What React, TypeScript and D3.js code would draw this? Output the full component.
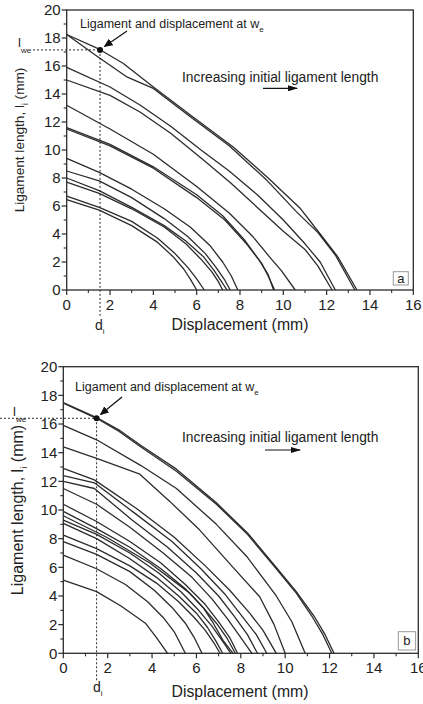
import React from 'react';
import * as d3 from 'd3';

type Pt = [number, number];

// panel a: ligament length vs displacement, one list per specimen
const curvesA: Pt[][] = [
  [[0, 18.25], [1.5, 17.2], [2.6, 16.2], [4, 14.5], [5.8, 12.4], [7.7, 10.2], [9.3, 8.0], [10.8, 5.8], [11.7, 4.0], [12.5, 2.4], [13.4, 0]],
  [[0, 18.25], [1.4, 16.7], [2.8, 15.2], [4, 14.4], [5.6, 12.5], [7.5, 10.3], [9.2, 7.9], [10.6, 5.6], [11.6, 4.1], [12.4, 2.5], [13.3, 0]],
  [[0, 15.9], [2, 14.5], [3.4, 13.2], [4.8, 11.7], [6.2, 10.0], [7.5, 8.5], [8.8, 6.8], [10, 5.0], [11, 3.3], [11.7, 2.0], [12.4, 0]],
  [[0, 15.0], [2, 13.9], [3.4, 12.7], [4.8, 11.2], [6.3, 9.3], [7.6, 7.6], [8.8, 5.9], [10, 4.2], [11, 2.9], [11.6, 1.7], [12.25, 0]],
  [[0, 13.2], [2, 11.5], [4, 9.7], [6, 7.4], [7.5, 5.5], [8.6, 3.8], [9.4, 2.3], [9.9, 1.4], [10.55, 0]],
  [[0, 11.6], [2, 10.4], [4, 8.8], [6, 6.8], [7.2, 5.3], [8.2, 3.6], [8.9, 2.1], [9.3, 1.1], [9.55, 0]],
  [[0, 11.5], [2, 10.3], [4, 8.7], [6, 6.6], [7.3, 5.0], [8.3, 3.3], [9.0, 1.9], [9.3, 1.0], [9.6, 0]],
  [[0, 9.4], [1.5, 8.4], [3, 7.2], [4.5, 5.8], [5.7, 4.5], [6.6, 3.2], [7.2, 2.0], [7.6, 1.0], [7.9, 0]],
  [[0, 8.5], [1.5, 7.8], [3, 6.6], [4.5, 5.1], [5.6, 3.8], [6.4, 2.6], [6.9, 1.6], [7.3, 0.7], [7.55, 0]],
  [[0, 8.0], [1.5, 7.1], [3, 5.9], [4.5, 4.6], [5.5, 3.5], [6.3, 2.4], [6.8, 1.4], [7.1, 0.7], [7.4, 0]],
  [[0, 7.7], [1.5, 6.9], [3, 5.8], [4.5, 4.5], [5.5, 3.3], [6.2, 2.2], [6.7, 1.3], [7.0, 0.6], [7.2, 0]],
  [[0, 6.7], [1.5, 5.9], [3, 4.9], [4.2, 3.7], [5.0, 2.6], [5.6, 1.6], [6.0, 0.8], [6.35, 0]],
  [[0, 6.45], [1.5, 5.7], [3, 4.6], [4.2, 3.4], [4.9, 2.4], [5.4, 1.5], [5.7, 0.8], [6.0, 0]],
];

// panel b
const curvesB: Pt[][] = [
  [[0, 17.5], [1.5, 16.45], [2.5, 15.6], [3.5, 14.5], [5.1, 12.85], [6.9, 10.5], [8.3, 8.4], [9.6, 6.0], [10.5, 4.3], [11.3, 2.6], [11.8, 1.3], [12.2, 0]],
  [[0, 17.45], [1.5, 16.4], [2.5, 15.5], [3.5, 14.4], [5.1, 12.7], [6.9, 10.4], [8.3, 8.3], [9.6, 5.9], [10.5, 4.2], [11.2, 2.6], [11.7, 1.3], [12.1, 0]],
  [[0, 15.9], [1.5, 14.9], [3.5, 13.1], [5.1, 11.5], [6.9, 9.0], [8.3, 6.7], [9.6, 4.0], [10.3, 2.2], [10.9, 0]],
  [[0, 14.4], [1.5, 13.6], [3.45, 12.5], [4.8, 10.6], [6.15, 8.6], [7.65, 6.0], [8.85, 3.95], [9.5, 2.0], [10.0, 0]],
  [[0, 12.9], [1.4, 12.1], [3.3, 10.1], [5, 8.1], [6.4, 6.1], [7.5, 4.4], [8.4, 2.8], [9.0, 1.6], [9.6, 0]],
  [[0, 12.4], [1.4, 11.9], [3.2, 9.8], [4.9, 7.8], [6.2, 5.9], [7.3, 4.1], [8.0, 2.7], [8.7, 1.3], [9.17, 0]],
  [[0, 12.0], [1.4, 11.5], [3.1, 9.3], [4.7, 7.4], [6, 5.6], [7, 4.0], [7.7, 2.6], [8.3, 1.3], [8.75, 0]],
  [[0, 11.5], [1.5, 10.4], [3, 8.8], [4.5, 7.0], [5.8, 5.3], [6.7, 3.8], [7.4, 2.4], [8.0, 1.1], [8.5, 0]],
  [[0, 10.4], [1.5, 9.2], [3, 7.8], [4.4, 6.3], [5.5, 4.8], [6.4, 3.4], [7.0, 2.2], [7.5, 1.1], [7.85, 0]],
  [[0, 9.9], [1.5, 8.7], [3, 7.4], [4.4, 5.9], [5.5, 4.5], [6.3, 3.2], [6.9, 2.1], [7.4, 1.0], [7.75, 0]],
  [[0, 9.6], [1.95, 8.1], [3.9, 6.3], [5.7, 4.2], [6.3, 3.2], [6.76, 2.1], [7.2, 0.9], [7.65, 0]],
  [[0, 9.3], [1.5, 8.3], [3, 7.0], [4.3, 5.6], [5.3, 4.3], [6.1, 3.0], [6.7, 1.9], [7.2, 0.8], [7.55, 0]],
  [[0, 9.07], [1.5, 8.0], [3, 6.6], [4.2, 5.3], [5.2, 4.0], [6, 2.8], [6.5, 1.8], [6.9, 0.8], [7.18, 0]],
  [[0, 8.25], [1.5, 7.3], [3, 6.1], [4.2, 4.9], [5.2, 3.6], [5.9, 2.5], [6.4, 1.6], [6.8, 0.7], [7.06, 0]],
  [[0, 7.8], [1.5, 6.9], [3, 5.7], [4.1, 4.4], [4.9, 3.2], [5.5, 2.1], [5.9, 1.1], [6.25, 0]],
  [[0, 6.85], [1.5, 5.9], [2.8, 4.8], [3.8, 3.6], [4.5, 2.5], [5.0, 1.5], [5.5, 0]],
  [[0, 5.1], [1.5, 4.3], [2.6, 3.3], [3.7, 2.1], [4.2, 1.1], [4.7, 0]],
];

// point at w_e (displacement d_i, ligament l_we)
const weA: Pt = [1.54, 17.15];
const weB: Pt = [1.5, 16.4];

const xTicks = [0, 2, 4, 6, 8, 10, 12, 14, 16];
const yTicks = [0, 2, 4, 6, 8, 10, 12, 14, 16, 18, 20];
const xMinor = [1, 3, 5, 7, 9, 11, 13, 15];
const yMinor = [1, 3, 5, 7, 9, 11, 13, 15, 17, 19];

const ink = '#2b2b2b';

function Panel(props: any) {
  const { curves, we, lay, tag } = props;
  const x = d3.scaleLinear().domain([0, 16]).range([lay.l, lay.r]);
  const y = d3.scaleLinear().domain([0, 20]).range([lay.b, lay.t]);
  const line = d3.line<Pt>().x(d => x(d[0])).y(d => y(d[1]));
  const px = x(we[0]), py = y(we[1]);

  return (
    <g>
      {/* frame */}
      <rect x={lay.l} y={lay.t} width={lay.r - lay.l} height={lay.b - lay.t} fill="none" stroke={ink} strokeWidth={1.3} />

      {/* ticks */}
      {xTicks.map(t => (
        <g key={'x' + t}>
          <line x1={x(t)} x2={x(t)} y1={lay.b} y2={lay.b + 5} stroke={ink} strokeWidth={1.2} />
          <text x={x(t)} y={lay.b + 20} textAnchor="middle" fontSize={15} fill="#222">{t}</text>
        </g>
      ))}
      {xMinor.map(t => (
        <line key={'xm' + t} x1={x(t)} x2={x(t)} y1={lay.b} y2={lay.b + 3} stroke={ink} strokeWidth={1.1} />
      ))}
      {yTicks.map(t => (
        <g key={'y' + t}>
          <line x1={lay.l - 5} x2={lay.l} y1={y(t)} y2={y(t)} stroke={ink} strokeWidth={1.2} />
          <text x={lay.l - 6} y={y(t)} dy="0.36em" textAnchor="end" fontSize={15} fill="#222">{t}</text>
        </g>
      ))}
      {yMinor.map(t => (
        <line key={'ym' + t} x1={lay.l - 3} x2={lay.l} y1={y(t)} y2={y(t)} stroke={ink} strokeWidth={1.1} />
      ))}

      {/* curves */}
      {curves.map((c: Pt[], i: number) => (
        <path key={i} d={line(c) || ''} fill="none" stroke={ink} strokeWidth={1.3} strokeLinejoin="round" />
      ))}

      {/* dotted guides */}
      <line x1={lay.lweLine} x2={px} y1={py} y2={py} stroke={ink} strokeWidth={1} strokeDasharray="2,2" />
      <line x1={px} x2={px} y1={py} y2={lay.diLine} stroke={ink} strokeWidth={1} strokeDasharray="2,2" />
      <circle cx={px} cy={py} r={3} fill="#111" />

      {/* labels */}
      <text x={lay.lweX} y={lay.lweY} fontSize={13} fill="#222">l<tspan dy={6} fontSize={8}>we</tspan></text>
      <text x={lay.diX} y={lay.diY} fontSize={14} fill="#222">d<tspan dy={4} fontSize={8}>i</tspan></text>

      <text x={lay.noteX} y={lay.noteY} fontSize={12.5} fill="#222">Ligament and displacement at w<tspan dy={4} fontSize={8}>e</tspan></text>
      <line x1={lay.arr[0]} y1={lay.arr[1]} x2={lay.arr[2]} y2={lay.arr[3]} stroke="#111" strokeWidth={1.2} markerEnd="url(#ah)" />

      <text x={lay.incX} y={lay.incY} fontSize={13.8} fill="#222">Increasing initial ligament length</text>
      <line x1={lay.incA[0]} y1={lay.incA[2]} x2={lay.incA[1]} y2={lay.incA[2]} stroke="#111" strokeWidth={1.2} markerEnd="url(#ah2)" />

      {/* axis titles */}
      <text x={lay.xtX} y={lay.xtY} textAnchor="middle" fontSize={15.8} fill="#222">Displacement (mm)</text>
      <text transform={`translate(${lay.ytX},${lay.ytY}) rotate(-90)`} textAnchor="middle" fontSize={lay.ytF} fill="#222">
        Ligament length, l<tspan dy={4} fontSize={lay.ytF * 0.62}>i</tspan><tspan dy={-4}> (mm)</tspan>
      </text>

      {/* panel tag */}
      <rect x={lay.tag[0]} y={lay.tag[1]} width={lay.tag[2]} height={lay.tag[3]} fill="#fff" stroke="#999" strokeWidth={1} />
      <text x={lay.tag[0] + lay.tag[2] / 2} y={lay.tag[1] + lay.tag[3] / 2} dy="0.35em" textAnchor="middle" fontSize={13} fill="#222">{tag}</text>
    </g>
  );
}

const layA = {
  l: 66.7, r: 413.3, t: 10, b: 290,
  lweX: 18, lweY: 47, lweLine: 33, diX: 95, diY: 330, diLine: 318,
  noteX: 80, noteY: 27.5, arr: [127, 31, 104.5, 46.5],
  incX: 182, incY: 81.5, incA: [263, 297, 88.3],
  xtX: 240, xtY: 330, ytX: 24, ytY: 140, ytF: 13.6,
  tag: [393.3, 271.7, 15, 13.3],
};

const layB = {
  l: 63.3, r: 418.3, t: 366.7, b: 653.3,
  lweX: 13, lweY: 416, lweLine: 0, diX: 93, diY: 692, diLine: 681,
  noteX: 75, noteY: 390.5, arr: [122, 397, 100.5, 414.5],
  incX: 182, incY: 441.5, incA: [265, 300, 450],
  xtX: 240, xtY: 697, ytX: 23, ytY: 510, ytF: 16,
  tag: [398.3, 631.7, 17.3, 18.3],
};

export default function App() {
  return (
    <svg width={423} height={704} style={{ position: 'absolute', left: 0, top: 0, background: '#fff' }}
      fontFamily="'Liberation Sans', Arial, Helvetica, sans-serif">
      <defs>
        <marker id="ah" markerUnits="userSpaceOnUse" markerWidth={9} markerHeight={8} refX={8} refY={4} orient="auto">
          <path d="M0,0 L9,4 L0,8 z" fill="#111" />
        </marker>
        <marker id="ah2" markerUnits="userSpaceOnUse" markerWidth={10} markerHeight={6} refX={9} refY={3} orient="auto">
          <path d="M0,0 L10,3 L0,6 z" fill="#111" />
        </marker>
      </defs>
      <Panel curves={curvesA} we={weA} lay={layA} tag="a" />
      <Panel curves={curvesB} we={weB} lay={layB} tag="b" />
    </svg>
  );
}
